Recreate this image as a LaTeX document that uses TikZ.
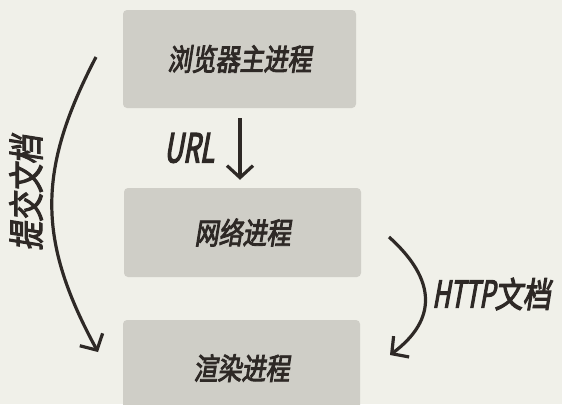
\documentclass[tikz,border=0pt]{standalone}
\usepackage{fontspec}
\usetikzlibrary{arrows.meta}
\newfontfamily\cjk[FakeSlant=0.16,FakeStretch=0.8,FakeBold=3]{Noto Sans CJK SC}
\newfontfamily\lat[FakeSlant=0.18,FakeStretch=0.66,FakeBold=3]{Noto Sans CJK SC}
\definecolor{bg}{HTML}{F0F0E9}
\definecolor{boxfill}{HTML}{CFCEC7}
\definecolor{ink}{HTML}{2E2926}
\tikzset{
  procbox/.style={rectangle, rounded corners=4bp, fill=boxfill, inner sep=0pt,
    font=\cjk\fontsize{30bp}{30bp}\selectfont, text=ink},
  lbl/.style={inner sep=0pt, text=ink, font=\fontsize{36bp}{36bp}\selectfont},
  arr/.style={draw=ink, line width=3.2bp, -{Straight Barb[length=12bp,width=26bp]}}
}
\begin{document}
\begin{tikzpicture}[x=1bp,y=-1bp]
\useasboundingbox (0,0) rectangle (562,404);
\clip (0,0) rectangle (562,404);
\fill[bg] (0,0) rectangle (562,404);
\node[procbox, minimum width=233bp, minimum height=98bp] (b1) at (239.5,59) {浏览器主进程};
\node[procbox, minimum width=237bp, minimum height=89bp] (b2) at (242.5,232.5) {网络进程};
\node[procbox, minimum width=237bp, minimum height=94bp, text depth=0pt] (b3) at (241.5,367) {渲染进程};
\draw[arr, shorten <=10bp, shorten >=8bp] (b1.south -| 240,0) -- (b2.north -| 240,0);
\node[lbl, font=\lat\fontsize{40bp}{40bp}\selectfont] (url) at (189,148) {URL};
\coordinate (l1) at (96,57);
\coordinate (l2) at (98,352);
\draw[arr] (l1) .. controls (37,170) and (37,240) .. (l2);
\node[lbl, rotate=90] (submit) at (26,193) {\cjk 提交文档};
\coordinate (r1) at (389,237);
\coordinate (r2) at (390,355);
\draw[arr] (r1) .. controls (437,280) and (437,320) .. (r2);
\node[lbl, anchor=west] (http) at (432,294) {\lat\fontsize{37bp}{37bp}\selectfont HTTP\cjk\fontsize{35bp}{35bp}\selectfont 文档};
\end{tikzpicture}
\end{document}
